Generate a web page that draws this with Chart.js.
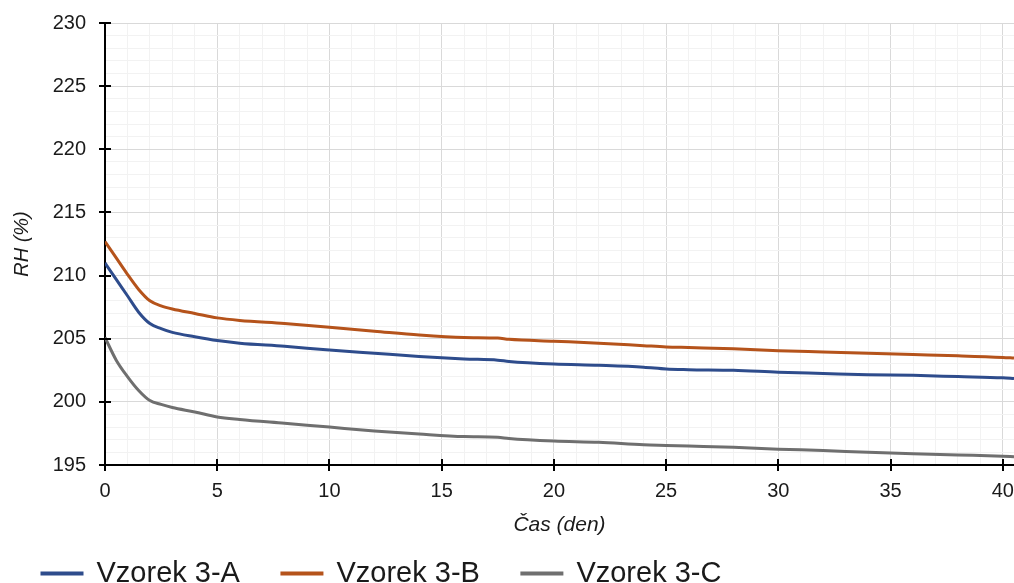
<!DOCTYPE html>
<html><head><meta charset="utf-8">
<script src="https://cdn.jsdelivr.net/npm/chart.js@4"></script>
<style>html,body{margin:0;padding:0;background:#fff}#wrap{width:1014px;height:583px;position:relative}</style>
</head><body><div id="wrap"><canvas id="c"></canvas></div>
<script>
const days = [0,0.5,1,1.5,2,2.5,3,4,5,6,8,10,12,14,16,17.5,18,20,22,24,25,26,28,30,32,34,36,38,40,40.5];
const seriesA = [211.0,209.7,208.4,207.1,206.2,205.8,205.5,205.15,204.85,204.65,204.4,204.1,203.85,203.6,203.4,203.3,203.2,203.0,202.9,202.75,202.6,202.55,202.5,202.35,202.25,202.15,202.1,202.0,201.9,201.84];
const seriesB = [212.7,211.4,210.1,208.9,208.0,207.6,207.35,207.0,206.65,206.45,206.2,205.9,205.6,205.3,205.1,205.05,204.95,204.8,204.65,204.45,204.35,204.3,204.2,204.05,203.95,203.85,203.75,203.65,203.52,203.47];
const seriesC = [205.1,203.3,202.0,200.9,200.1,199.8,199.55,199.2,198.8,198.6,198.3,198.0,197.7,197.45,197.25,197.2,197.1,196.9,196.8,196.6,196.55,196.5,196.4,196.25,196.15,196.0,195.9,195.8,195.7,195.66];
const seriesNames = ['Vzorek 3-A','Vzorek 3-B','Vzorek 3-C'];
const xTickLabels = [0,5,10,15,20,25,30,35,40];
const yTickLabels = [195,200,205,210,215,220,225,230];

const colors = ['#2E4C8C','#B5531B','#6F6F6F'];
const pts = s => days.map((d,i)=>({x:d,y:s[i]}));
const FONT = "'Liberation Sans', Arial, sans-serif";

const crossTicks = {
  id:'crossTicks',
  afterDatasetsDraw(chart){
    const {ctx, scales:{x,y}} = chart;
    ctx.save();
    ctx.strokeStyle='#000'; ctx.lineWidth=2;
    ctx.beginPath();
    yTickLabels.forEach(v=>{const p=Math.round(y.getPixelForValue(v)); ctx.moveTo(x.left-6,p); ctx.lineTo(x.left+6,p);});
    xTickLabels.forEach(v=>{const p=Math.round(x.getPixelForValue(v)); ctx.moveTo(p,y.bottom-6); ctx.lineTo(p,y.bottom+6);});
    ctx.stroke();
    ctx.restore();
  }
};
const legendShift = {
  id:'legendShift',
  afterLayout(chart){ const l=chart.legend; if(l){ l.top+=15; l.bottom+=15; } }
};

new Chart(document.getElementById('c'), {
  type:'scatter',
  data:{datasets:[seriesA,seriesB,seriesC].map((s,i)=>({
    label:seriesNames[i], data:pts(s), showLine:true, borderColor:colors[i], backgroundColor:colors[i],
    borderWidth:3, pointRadius:0, cubicInterpolationMode:'monotone'
  }))},
  options:{
    responsive:true, maintainAspectRatio:false, animation:false,
    layout:{padding:{top:23,right:0,left:0,bottom:0}},
    plugins:{
      tooltip:{enabled:false},
      legend:{position:'bottom', align:'start',
        labels:{font:{family:FONT,size:29}, color:'#1a1a1a', boxWidth:40, boxHeight:1, padding:42}}
    },
    scales:{
      x:{type:'linear', min:0, max:40.5,
        ticks:{stepSize:1, includeBounds:false, autoSkip:false, maxRotation:0, padding:14, color:'#1a1a1a', font:{family:FONT,size:20},
          callback:v=> (xTickLabels.some(t=>Math.abs(t-v)<1e-6)? String(Math.round(v)):'')},
        grid:{drawTicks:false, color:c=> (c.tick && xTickLabels.some(t=>Math.abs(t-c.tick.value)<1e-6))?'#d9d9d9':'#f2f2f2', lineWidth:1},
        border:{color:'#000', width:2},
        title:{display:true, text:'Čas (den)', color:'#1a1a1a', font:{family:FONT,size:21,style:'italic'}, padding:{top:0,bottom:-36}},
        afterFit:s=>{s.height=37; s.paddingLeft=0; s.paddingRight=0;}
      },
      y:{type:'linear', min:195, max:230,
        ticks:{stepSize:1, autoSkip:false, padding:19, color:'#1a1a1a', font:{family:FONT,size:20},
          callback:v=> (yTickLabels.some(t=>Math.abs(t-v)<1e-6)? String(Math.round(v)):'')},
        grid:{drawTicks:false, color:c=> (c.tick && yTickLabels.some(t=>Math.abs(t-c.tick.value)<1e-6))?'#d9d9d9':'#f2f2f2', lineWidth:1},
        border:{color:'#000', width:2},
        title:{display:true, text:'RH (%)', color:'#1a1a1a', font:{family:FONT,size:20,style:'italic'}, padding:{top:10,bottom:0}},
        afterFit:s=>{s.width=105; s.paddingTop=0; s.paddingBottom=0;}
      }
    }
  },
  plugins:[crossTicks, legendShift]
});
</script></body></html>
